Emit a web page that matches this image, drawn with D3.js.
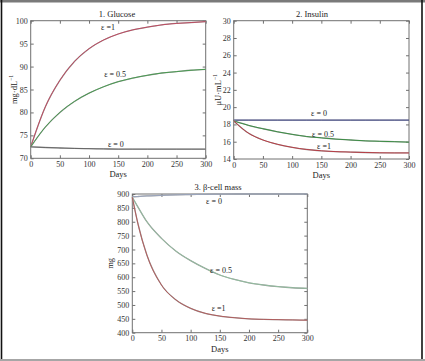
<!DOCTYPE html>
<html><head><meta charset="utf-8">
<script src="https://cdn.jsdelivr.net/npm/d3@7"></script>
<style>body{margin:0;background:#fff}svg{display:block}</style>
</head><body>
<script>
const days = [0, 25, 50, 75, 100, 125, 150, 175, 200, 225, 250, 275, 300];
const daysB = [0, 10, 25, 50, 75, 100, 125, 150, 175, 200, 225, 250, 275, 300];
const xTicks = [0, 50, 100, 150, 200, 250, 300];

const glucoseE1  = [72.5, 81.2, 87.0, 91.1, 93.9, 95.8, 97.1, 98.0, 98.6, 99.1, 99.4, 99.6, 99.8];
const glucoseE05 = [72.5, 76.8, 80.0, 82.4, 84.2, 85.6, 86.7, 87.5, 88.1, 88.6, 88.9, 89.2, 89.4];
const glucoseE0  = [72.5, 72.35, 72.25, 72.15, 72.1, 72.05, 72.0, 72.0, 72.0, 72.0, 72.0, 72.0, 72.0];
const glucoseTicks = [70, 75, 80, 85, 90, 95, 100];

const insulinE0  = [18.5, 18.5, 18.5, 18.5, 18.5, 18.5, 18.5, 18.5, 18.5, 18.5, 18.5, 18.5, 18.5];
const insulinE05 = [18.4, 17.9, 17.5, 17.15, 16.85, 16.6, 16.45, 16.3, 16.2, 16.1, 16.05, 16.0, 15.95];
const insulinE1  = [18.4, 17.0, 16.2, 15.7, 15.35, 15.1, 14.95, 14.85, 14.8, 14.75, 14.72, 14.7, 14.7];
const insulinTicks = [14, 16, 18, 20, 22, 24, 26, 28, 30];

const betaE0  = [890, 891, 893, 895, 897, 898, 899, 899.5, 900, 900, 900, 900, 900, 900];
const betaE05 = [888, 852, 800, 740, 694, 660, 632, 608, 592, 580, 572, 566, 562, 560];
const betaE1  = [888, 790, 680, 572, 518, 488, 470, 460, 454, 450, 448, 447, 446, 445];
const betaTicks = [400, 450, 500, 550, 600, 650, 700, 750, 800, 850, 900];

const W = 425, H = 361;
const svg = d3.select("body").append("svg").attr("width", W).attr("height", H);
const FONT = "Liberation Serif, Times New Roman, serif";

// outer frame
svg.append("rect").attr("x", 0).attr("y", 0).attr("width", W).attr("height", 2.5).attr("fill", "#7a7a7a");
svg.append("line").attr("x1", 1.5).attr("x2", 1.5).attr("y1", 0).attr("y2", 359).attr("stroke", "#111").attr("stroke-width", 1.6);
svg.append("line").attr("x1", 422).attr("x2", 422).attr("y1", 0).attr("y2", 359).attr("stroke", "#111").attr("stroke-width", 1.6);
svg.append("line").attr("x1", 0).attr("x2", W).attr("y1", 360).attr("y2", 360).attr("stroke", "#888").attr("stroke-width", 1.4);

function panel(cfg) {
  const g = svg.append("g");
  const x = d3.scaleLinear().domain([0, 300]).range([cfg.left, cfg.right]);
  const y = d3.scaleLinear().domain(cfg.yDomain).range([cfg.bottom, cfg.top]);
  const tl = 3;
  const axCol = "#707070";
  g.append("rect").attr("x", cfg.left).attr("y", cfg.top).attr("width", cfg.right - cfg.left)
    .attr("height", cfg.bottom - cfg.top).attr("fill", "none").attr("stroke", axCol).attr("stroke-width", 1);
  const xa = g.append("g").attr("transform", `translate(0,${cfg.bottom})`)
    .call(d3.axisBottom(x).tickValues(xTicks).tickSize(-tl).tickPadding(3).tickFormat(d3.format("d")));
  const xt = g.append("g").attr("transform", `translate(0,${cfg.top})`)
    .call(d3.axisTop(x).tickValues(xTicks).tickSize(-tl).tickFormat(""));
  const ya = g.append("g").attr("transform", `translate(${cfg.left},0)`)
    .call(d3.axisLeft(y).tickValues(cfg.yTicks).tickSize(-tl).tickPadding(3).tickFormat(d3.format("d")));
  const yr = g.append("g").attr("transform", `translate(${cfg.right},0)`)
    .call(d3.axisRight(y).tickValues(cfg.yTicks).tickSize(-tl).tickFormat(""));
  [xa, xt, ya, yr].forEach(a => {
    a.select(".domain").remove();
    a.selectAll("line").attr("stroke", axCol);
    a.selectAll("text").attr("font-family", FONT).attr("font-size", 8).attr("fill", "#333");
  });
  cfg.series.forEach(s => {
    const line = d3.line().x((d, i) => x(s.days[i])).y(d => y(d)).curve(d3.curveMonotoneX);
    g.append("path").datum(s.values).attr("d", line).attr("fill", "none")
      .attr("stroke", "#9a9a9a").attr("stroke-width", 1.3);
    g.append("path").datum(s.values).attr("d", line).attr("fill", "none")
      .attr("stroke", s.color).attr("stroke-width", 0.9).attr("stroke-opacity", 0.85);
    g.append("text").attr("x", x(s.lx)).attr("y", y(s.ly)).attr("text-anchor", "middle")
      .attr("font-family", FONT).attr("font-size", 8).attr("fill", "#222").text(s.label);
  });
  g.append("text").attr("x", cfg.titleX).attr("y", cfg.top - 4).attr("text-anchor", "middle")
    .attr("font-family", FONT).attr("font-size", 8.5).attr("fill", "#222").text(cfg.title);
  g.append("text").attr("x", (cfg.left + cfg.right) / 2).attr("y", cfg.bottom + 19).attr("text-anchor", "middle")
    .attr("font-family", FONT).attr("font-size", 8.5).attr("fill", "#222").text("Days");
  const yl = g.append("text").attr("transform", `translate(${cfg.ylabX},${(cfg.top + cfg.bottom) / 2}) rotate(-90)`)
    .attr("text-anchor", "middle").attr("font-family", FONT).attr("font-size", 8.5).attr("fill", "#222");
  yl.append("tspan").text(cfg.ylab);
  if (cfg.ylabSup) yl.append("tspan").attr("font-size", 5.5).attr("dy", -3.5).text(cfg.ylabSup);
}

panel({
  left: 30.7, right: 205.7, top: 20.7, bottom: 158.3, yDomain: [70, 100], yTicks: glucoseTicks,
  title: "1. Glucose", titleX: 117, ylab: "mg·dL", ylabSup: "−1", ylabX: 16.5,
  series: [
    {days: days, values: glucoseE1, color: "#c8304e", label: "ε =1", lx: 132.5, ly: 98.0},
    {days: days, values: glucoseE05, color: "#2f9a3a", label: "ε = 0.5", lx: 144.7, ly: 87.7},
    {days: days, values: glucoseE0, color: "#555555", label: "ε = 0", lx: 146, ly: 72.47}
  ]
});

panel({
  left: 233.7, right: 409, top: 20.7, bottom: 159, yDomain: [14, 30], yTicks: insulinTicks,
  title: "2. Insulin", titleX: 312, ylab: "μU·mL", ylabSup: "−1", ylabX: 220.5,
  series: [
    {days: days, values: insulinE0, color: "#1a237e", label: "ε = 0", lx: 146, ly: 18.97},
    {days: days, values: insulinE05, color: "#1e8a2a", label: "ε = 0.5", lx: 152.8, ly: 16.55},
    {days: days, values: insulinE1, color: "#c0202a", label: "ε =1", lx: 154.5, ly: 15.16}
  ]
});

panel({
  left: 132.3, right: 307.3, top: 194, bottom: 332.7, yDomain: [400, 900], yTicks: betaTicks,
  title: "3. β-cell mass", titleX: 218, ylab: "mg", ylabSup: null, ylabX: 113,
  series: [
    {days: daysB, values: betaE0, color: "#9aa8c8", label: "ε = 0", lx: 140, ly: 864},
    {days: daysB, values: betaE05, color: "#8fc8a0", label: "ε = 0.5", lx: 152, ly: 617},
    {days: daysB, values: betaE1, color: "#b84a4a", label: "ε =1", lx: 148, ly: 480}
  ]
});
</script>
</body></html>
